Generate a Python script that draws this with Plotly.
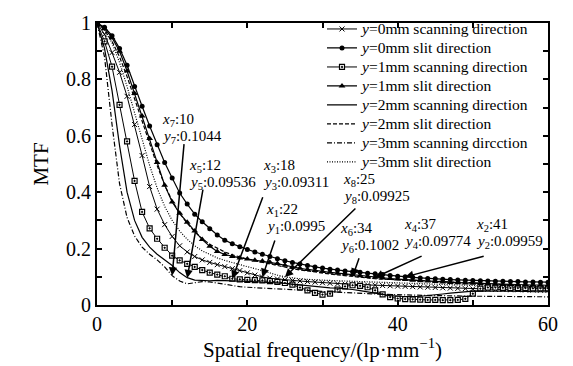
import plotly.graph_objects as go

freq = list(range(0, 61))

s0_scan = [1.000, 0.960, 0.895, 0.825, 0.740, 0.640, 0.530, 0.420, 0.340, 0.285,
           0.243, 0.210, 0.188, 0.172, 0.160, 0.151, 0.143, 0.136, 0.129, 0.122,
           0.114, 0.106, 0.0995, 0.095, 0.092, 0.089, 0.087, 0.085, 0.083, 0.081,
           0.079, 0.077, 0.075, 0.074, 0.073, 0.072, 0.071, 0.070, 0.069, 0.068,
           0.067, 0.066, 0.065, 0.064, 0.063, 0.062, 0.061, 0.060, 0.059, 0.058,
           0.057, 0.056, 0.056, 0.055, 0.055, 0.054, 0.054, 0.053, 0.053, 0.052, 0.052]

s0_slit = [1.000, 0.985, 0.955, 0.910, 0.850, 0.775, 0.705, 0.635, 0.568, 0.505,
           0.450, 0.397, 0.358, 0.322, 0.295, 0.270, 0.248, 0.230, 0.217, 0.207,
           0.197, 0.188, 0.180, 0.172, 0.164, 0.157, 0.151, 0.145, 0.140, 0.135,
           0.131, 0.127, 0.124, 0.121, 0.118, 0.116, 0.113, 0.111, 0.108, 0.105,
           0.102, 0.100, 0.098, 0.096, 0.094, 0.093, 0.091, 0.090, 0.089, 0.088,
           0.087, 0.086, 0.085, 0.084, 0.084, 0.083, 0.083, 0.082, 0.082, 0.081, 0.081]

s1_scan = [1.000, 0.935, 0.845, 0.710, 0.580, 0.440, 0.330, 0.272, 0.235, 0.203,
           0.175, 0.158, 0.146, 0.135, 0.124, 0.115, 0.108, 0.102, 0.093, 0.091,
           0.089, 0.088, 0.087, 0.085, 0.082, 0.078, 0.072, 0.062, 0.052, 0.043,
           0.037, 0.040, 0.055, 0.066, 0.070, 0.068, 0.063, 0.052, 0.038, 0.028,
           0.023, 0.021, 0.020, 0.019, 0.018, 0.018, 0.017, 0.017, 0.018, 0.022,
           0.040, 0.058, 0.062, 0.062, 0.061, 0.060, 0.060, 0.060, 0.059, 0.059, 0.059]

s1_slit = [1.000, 0.980, 0.948, 0.900, 0.830, 0.750, 0.670, 0.590, 0.505, 0.425,
           0.365, 0.325, 0.293, 0.262, 0.232, 0.208, 0.190, 0.179, 0.172, 0.167,
           0.163, 0.159, 0.156, 0.152, 0.147, 0.141, 0.135, 0.130, 0.126, 0.122,
           0.119, 0.116, 0.113, 0.110, 0.107, 0.104, 0.101, 0.098, 0.096, 0.094,
           0.092, 0.090, 0.088, 0.086, 0.085, 0.083, 0.082, 0.080, 0.079, 0.078,
           0.077, 0.076, 0.075, 0.074, 0.073, 0.073, 0.072, 0.072, 0.071, 0.071, 0.070]

s2_scan = [1.000, 0.910, 0.760, 0.565, 0.400, 0.300, 0.240, 0.205, 0.180, 0.160,
           0.140, 0.115, 0.097, 0.088, 0.086, 0.086, 0.087, 0.087, 0.086, 0.085,
           0.084, 0.083, 0.082, 0.081, 0.079, 0.077, 0.074, 0.071, 0.068, 0.065,
           0.063, 0.061, 0.060, 0.058, 0.055, 0.051, 0.046, 0.041, 0.036, 0.033,
           0.031, 0.030, 0.030, 0.031, 0.033, 0.036, 0.039, 0.042, 0.045, 0.047,
           0.049, 0.050, 0.050, 0.050, 0.049, 0.049, 0.048, 0.048, 0.047, 0.047, 0.047]

s2_slit = [1.000, 0.975, 0.935, 0.880, 0.810, 0.730, 0.650, 0.570, 0.495, 0.425,
           0.370, 0.325, 0.290, 0.260, 0.235, 0.215, 0.200, 0.188, 0.178, 0.170,
           0.163, 0.157, 0.151, 0.145, 0.139, 0.134, 0.129, 0.124, 0.120, 0.116,
           0.113, 0.110, 0.107, 0.104, 0.100, 0.097, 0.095, 0.093, 0.092, 0.091,
           0.090, 0.090, 0.089, 0.088, 0.087, 0.086, 0.085, 0.084, 0.083, 0.081,
           0.079, 0.077, 0.075, 0.073, 0.071, 0.069, 0.067, 0.066, 0.065, 0.064, 0.063]

s3_scan = [1.000, 0.880, 0.640, 0.430, 0.310, 0.245, 0.205, 0.180, 0.160, 0.135,
           0.104, 0.085, 0.075, 0.078, 0.083, 0.082, 0.078, 0.073, 0.068, 0.065,
           0.063, 0.061, 0.059, 0.058, 0.057, 0.056, 0.055, 0.054, 0.052, 0.050,
           0.048, 0.046, 0.045, 0.044, 0.043, 0.041, 0.040, 0.039, 0.038, 0.037,
           0.036, 0.035, 0.035, 0.034, 0.034, 0.033, 0.033, 0.032, 0.032, 0.032,
           0.031, 0.031, 0.031, 0.030, 0.030, 0.030, 0.030, 0.029, 0.029, 0.029, 0.029]

s3_slit = [1.000, 0.975, 0.930, 0.860, 0.775, 0.680, 0.585, 0.495, 0.415, 0.350,
           0.300, 0.262, 0.233, 0.210, 0.192, 0.178, 0.167, 0.158, 0.150, 0.143,
           0.136, 0.129, 0.121, 0.113, 0.106, 0.100, 0.096, 0.093, 0.091, 0.089,
           0.088, 0.087, 0.086, 0.085, 0.085, 0.084, 0.083, 0.082, 0.081, 0.080,
           0.079, 0.078, 0.077, 0.076, 0.075, 0.074, 0.073, 0.072, 0.071, 0.070,
           0.069, 0.068, 0.067, 0.066, 0.065, 0.064, 0.063, 0.062, 0.061, 0.060, 0.060]

series_names = [
    "<i>y</i>=0mm scanning direction",
    "<i>y</i>=0mm slit direction",
    "<i>y</i>=1mm scanning direction",
    "<i>y</i>=1mm slit direction",
    "<i>y</i>=2mm scanning direction",
    "<i>y</i>=2mm slit direction",
    "<i>y</i>=3mm scanning dircction",
    "<i>y</i>=3mm slit direction",
]
series_values = [s0_scan, s0_slit, s1_scan, s1_slit, s2_scan, s2_slit, s3_scan, s3_slit]

# marked points: (subscript, x, y)
marks_idx = ["7", "5", "3", "1", "8", "6", "4", "2"]
marks_x = [10, 12, 18, 22, 25, 34, 37, 41]
marks_y = ["0.1044", "0.09536", "0.09311", "0.0995", "0.09925", "0.1002", "0.09774", "0.09959"]

x_ticks = [0, 10, 20, 30, 40, 50, 60]
x_ticktext = ["0", "", "20", "", "40", "", "60"]
y_ticks = [0, 0.1, 0.2, 0.3, 0.4, 0.5, 0.6, 0.7, 0.8, 0.9, 1.0]
y_ticktext = ["0", "", "0.2", "", "0.4", "", "0.6", "", "0.8", "", "1"]

FONT = "Liberation Serif"
styles = [
    dict(mode="lines+markers", line=dict(color="black", width=1),
         marker=dict(symbol="x-thin-open", size=5, line=dict(color="black", width=1))),
    dict(mode="lines+markers", line=dict(color="black", width=1.2),
         marker=dict(symbol="circle", size=5, color="black")),
    dict(mode="lines+markers", line=dict(color="black", width=1),
         marker=dict(symbol="square-dot", size=5, color="white", line=dict(color="black", width=1.2))),
    dict(mode="lines+markers", line=dict(color="black", width=1.2),
         marker=dict(symbol="triangle-up", size=6, color="black")),
    dict(mode="lines", line=dict(color="black", width=1.2)),
    dict(mode="lines", line=dict(color="black", width=1.2, dash="4px,2px")),
    dict(mode="lines", line=dict(color="black", width=1.2, dash="5px,2px,1px,2px")),
    dict(mode="lines", line=dict(color="black", width=1.2, dash="1px,1.5px")),
]

fig = go.Figure()
for name, vals, st in zip(series_names, series_values, styles):
    fig.add_trace(go.Scatter(x=freq, y=vals,
                             name='<span style="font-size:15.5px">' + name + '</span>',
                             **st))

# arrow tail offsets (pixels from tip) and label text anchor positions (pixels)
tail_off = [(12, -133), (16, -90), (31, -83), (13, -38), (72, -70), (7, -20), (48, -22), (80, -21)]
text_pos = [(160, 116), (187, 165), (261, 165), (264, 211), (341, 179), (338, 231), (402, 227), (474, 227)]

W, H = 573, 366
ML, MR, MT, MB = 97, 25, 14, 55
pw, ph = W - ML - MR, H - MT - MB

annotations = []
for idx, xv, yv, (ax, ay), (tx, ty) in zip(marks_idx, marks_x, marks_y, tail_off, text_pos):
    annotations.append(dict(x=xv, y=float(yv), xref="x", yref="y", ax=ax, ay=ay,
                            text="", showarrow=True, arrowhead=2, arrowsize=1.1,
                            arrowwidth=1.5, arrowcolor="black"))
    px = (tx - ML) / pw
    py1 = 1 - (ty - MT) / ph
    py2 = 1 - (ty + 18 - MT) / ph
    annotations.append(dict(x=px, y=py1, xref="paper", yref="paper", xanchor="left", yanchor="middle",
                            text="<i>x</i><sub>%s</sub>:%d" % (idx, xv), showarrow=False,
                            font=dict(family=FONT, size=15, color="black")))
    annotations.append(dict(x=px, y=py2, xref="paper", yref="paper", xanchor="left", yanchor="middle",
                            text="<i>y</i><sub>%s</sub>:%s" % (idx, yv), showarrow=False,
                            font=dict(family=FONT, size=15, color="black")))

fig.update_layout(
    width=W, height=H,
    margin=dict(l=ML, r=MR, t=MT, b=MB),
    paper_bgcolor="white", plot_bgcolor="white",
    font=dict(family=FONT, color="black", size=20),
    showlegend=True,
    legend=dict(x=(322 - ML) / pw, y=1 + 9 / ph, xanchor="left", yanchor="top",
                bgcolor="rgba(0,0,0,0)", borderwidth=0, itemwidth=30,
                font=dict(family=FONT, size=12, color="black")),
    annotations=annotations,
)
fig.update_xaxes(range=[0, 60], tickvals=x_ticks, ticktext=x_ticktext,
                 ticks="inside", ticklen=5, tickwidth=1.5, tickcolor="black",
                 showline=True, linewidth=2, linecolor="black", mirror="ticks",
                 showgrid=False, zeroline=False,
                 tickfont=dict(family=FONT, size=20),
                 title=dict(text="Spatial frequency/(lp·mm<sup>−1</sup>)",
                            font=dict(family=FONT, size=21), standoff=4))
fig.update_yaxes(range=[0, 1], tickvals=y_ticks, ticktext=y_ticktext,
                 ticks="inside", ticklen=5, tickwidth=1.5, tickcolor="black",
                 showline=True, linewidth=2, linecolor="black", mirror="ticks",
                 showgrid=False, zeroline=False,
                 tickfont=dict(family=FONT, size=20),
                 title=dict(text="MTF", font=dict(family=FONT, size=21), standoff=12))

fig.write_html("out.html")
